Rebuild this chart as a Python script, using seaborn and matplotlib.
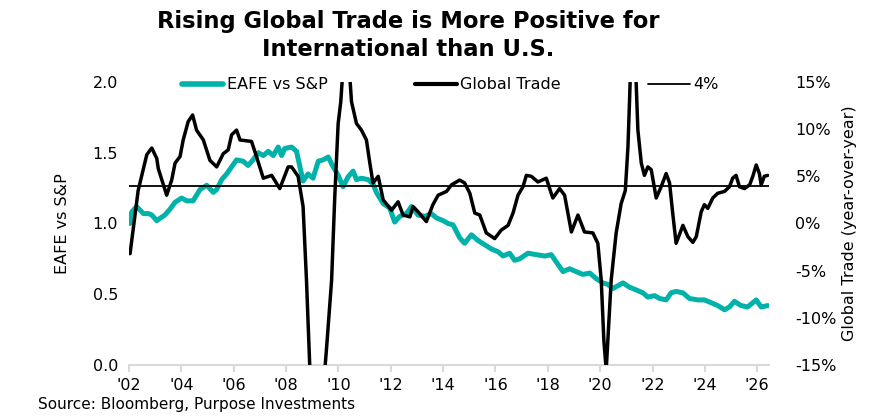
import numpy as np
import pandas as pd
import seaborn as sns
import matplotlib.pyplot as plt
from matplotlib.lines import Line2D
from matplotlib.ticker import FuncFormatter

sns.set_theme(style="white")
plt.rcParams['font.family'] = ['DejaVu Sans']
plt.rcParams['text.color'] = 'black'
plt.rcParams['axes.labelcolor'] = 'black'

# EAFE vs S&P relative ratio (left axis), decimal years
eafe_dates = [2002.04, 2002.10, 2002.29, 2002.55, 2002.74, 2002.87, 2003.06, 2003.37, 2003.56, 2003.76,
              2004.01, 2004.20, 2004.45, 2004.71, 2004.97, 2005.22, 2005.35, 2005.54, 2005.73, 2005.92,
              2006.11, 2006.36, 2006.55, 2006.74, 2006.94, 2007.13, 2007.32, 2007.51, 2007.70, 2007.83,
              2007.95, 2008.21, 2008.40, 2008.53, 2008.65, 2008.84, 2009.03, 2009.23, 2009.42, 2009.61,
              2009.80, 2009.99, 2010.18, 2010.37, 2010.56, 2010.69, 2010.88, 2011.13, 2011.32, 2011.45,
              2011.71, 2011.96, 2012.15, 2012.34, 2012.60, 2012.79, 2013.04, 2013.30, 2013.55, 2013.74,
              2014.00, 2014.19, 2014.38, 2014.63, 2014.82, 2015.08, 2015.33, 2015.59, 2015.84, 2016.10,
              2016.29, 2016.54, 2016.73, 2016.92, 2017.24, 2017.56, 2017.88, 2018.13, 2018.39, 2018.58,
              2018.83, 2019.08, 2019.34, 2019.60, 2019.85, 2020.10, 2020.29, 2020.48, 2020.87, 2021.12,
              2021.38, 2021.63, 2021.82, 2022.08, 2022.27, 2022.52, 2022.71, 2022.90, 2023.16, 2023.41,
              2023.73, 2023.98, 2024.24, 2024.49, 2024.75, 2024.94, 2025.13, 2025.38, 2025.63, 2025.83,
              2025.96, 2026.15, 2026.40]
eafe_vals = [1.00, 1.08, 1.12, 1.07, 1.07, 1.06, 1.02, 1.06, 1.10, 1.15,
             1.18, 1.16, 1.16, 1.24, 1.27, 1.22, 1.24, 1.31, 1.35, 1.40,
             1.45, 1.44, 1.41, 1.45, 1.50, 1.48, 1.51, 1.48, 1.54, 1.48,
             1.53, 1.54, 1.51, 1.40, 1.30, 1.35, 1.32, 1.44, 1.45, 1.47,
             1.40, 1.34, 1.26, 1.33, 1.37, 1.31, 1.32, 1.31, 1.28, 1.22,
             1.14, 1.11, 1.01, 1.05, 1.07, 1.12, 1.06, 1.05, 1.07, 1.04,
             1.02, 1.00, 0.99, 0.90, 0.86, 0.92, 0.88, 0.85, 0.82, 0.80,
             0.77, 0.79, 0.74, 0.75, 0.79, 0.78, 0.77, 0.78, 0.71, 0.66,
             0.68, 0.66, 0.64, 0.65, 0.61, 0.58, 0.57, 0.54, 0.58, 0.55,
             0.53, 0.51, 0.48, 0.49, 0.47, 0.46, 0.51, 0.52, 0.51, 0.47,
             0.46, 0.46, 0.44, 0.42, 0.39, 0.41, 0.45, 0.42, 0.41, 0.44,
             0.46, 0.41, 0.42]

# Global trade, % year-over-year (right axis)
trade_dates = [2002.04, 2002.35, 2002.68, 2002.87, 2003.06, 2003.12, 2003.44, 2003.63, 2003.76, 2003.95,
               2004.07, 2004.26, 2004.43, 2004.58, 2004.84, 2005.09, 2005.35, 2005.60, 2005.79, 2005.92,
               2006.11, 2006.24, 2006.68, 2006.87, 2007.13, 2007.45, 2007.76, 2008.08, 2008.21, 2008.46,
               2008.65, 2008.78, 2008.91, 2009.05, 2009.20, 2009.38, 2009.55, 2009.74, 2009.86, 2009.99,
               2010.09, 2010.20, 2010.30, 2010.40, 2010.50, 2010.69, 2010.88, 2011.07, 2011.20, 2011.32,
               2011.52, 2011.71, 2012.03, 2012.28, 2012.47, 2012.73, 2012.85, 2013.04, 2013.36, 2013.61,
               2013.81, 2014.13, 2014.32, 2014.63, 2014.82, 2015.02, 2015.21, 2015.40, 2015.65, 2015.97,
               2016.22, 2016.48, 2016.67, 2016.86, 2017.05, 2017.18, 2017.37, 2017.62, 2017.94, 2018.19,
               2018.45, 2018.64, 2018.90, 2019.15, 2019.40, 2019.72, 2019.91, 2020.04, 2020.14, 2020.23,
               2020.42, 2020.61, 2020.80, 2020.96, 2021.06, 2021.12, 2021.20, 2021.26, 2021.32, 2021.44,
               2021.57, 2021.69, 2021.82, 2021.95, 2022.14, 2022.33, 2022.52, 2022.65, 2022.77, 2022.90,
               2023.16, 2023.35, 2023.54, 2023.67, 2023.86, 2023.98, 2024.11, 2024.30, 2024.49, 2024.75,
               2024.94, 2025.06, 2025.19, 2025.32, 2025.51, 2025.71, 2025.83, 2025.96, 2026.08, 2026.15,
               2026.27, 2026.40]
trade_vals = [-3.2, 3.5, 7.3, 8.0, 6.9, 5.8, 3.0, 4.6, 6.4, 7.1,
              8.85, 10.8, 11.5, 9.9, 8.85, 6.7, 6.0, 7.4, 7.8, 9.4,
              9.9, 8.85, 8.7, 7.1, 4.8, 5.1, 3.7, 6.0, 6.0, 5.0,
              1.8, -6.0, -15.5, -20.0, -21.5, -19.0, -13.1, -6.0, 2.8, 10.6,
              12.9, 17.5, 19.0, 17.0, 12.9, 10.6, 9.9, 8.85, 6.4, 4.3,
              5.0, 2.5, 1.4, 2.3, 0.9, 0.7, 1.8, 1.25, 0.2, 2.0,
              3.0, 3.4, 4.1, 4.6, 4.3, 3.2, 1.1, 0.9, -1.0, -1.6,
              -0.7, -0.2, 1.1, 3.0, 3.9, 5.1, 5.0, 4.4, 4.8, 2.7,
              3.7, 3.0, -0.9, 0.9, -0.9, -1.0, -2.1, -6.0, -12.4, -15.5,
              -6.0, -1.0, 2.1, 3.5, 8.1, 12.9, 20.0, 22.0, 19.0, 9.9,
              6.4, 5.1, 6.0, 5.7, 2.7, 3.9, 5.3, 4.3, 1.1, -2.1,
              -0.2, -1.4, -2.0, -1.4, 1.25, 2.0, 1.6, 2.7, 3.2, 3.4,
              3.9, 4.8, 5.1, 3.9, 3.7, 4.1, 5.0, 6.2, 5.3, 4.1,
              5.0, 5.1]

threshold = 4
year_ticks = list(range(2002, 2027, 2))
teal = "#00B2A9"

eafe = pd.DataFrame({"date": eafe_dates, "value": eafe_vals})
trade = pd.DataFrame({"date": trade_dates, "value": trade_vals})

fig = plt.figure(figsize=(8.74, 4.17), dpi=100)
ax = fig.add_axes([0.1476, 0.1247, 0.7323, 0.6787])
ax2 = ax.twinx()

sns.lineplot(data=eafe, x="date", y="value", ax=ax, color=teal, linewidth=3.6)
sns.lineplot(data=trade, x="date", y="value", ax=ax2, color="black", linewidth=2.5)
ax2.axhline(threshold, color="black", linewidth=1.3)

ax.set_xlim(2002, 2026.45)
ax.set_ylim(0, 2.0)
ax.set_yticks([0, 0.5, 1.0, 1.5, 2.0])
ax.yaxis.set_major_formatter(FuncFormatter(lambda v, p: f"{v:.1f}"))
ax2.set_ylim(-15, 15)
ax2.set_yticks(range(-15, 16, 5))
ax2.yaxis.set_major_formatter(FuncFormatter(lambda v, p: f"{v:.0f}%"))

ax.set_xticks(year_ticks)
ax.set_xticklabels(["'" + str(y)[2:] for y in year_ticks])

for a in (ax, ax2):
    for s in ("top", "left", "right"):
        a.spines[s].set_visible(False)
    a.spines["bottom"].set_color("#d9d9d9")
    a.spines["bottom"].set_linewidth(1.5)
ax2.spines["bottom"].set_visible(False)

ax.tick_params(axis="x", length=5, width=1.5, color="#d9d9d9", labelcolor="black",
               labelsize=11.5, pad=4, bottom=True)
ax.tick_params(axis="y", length=0, labelsize=11.5, pad=8, labelcolor="black")
ax2.tick_params(axis="y", length=0, labelsize=11.5, pad=19, labelcolor="black")

ax.set_xlabel("")
ax.set_ylabel("EAFE vs S&P", fontsize=11.5, labelpad=16)
ax2.set_ylabel("Global Trade (year-over-year)", fontsize=11.5, labelpad=4)

fig.suptitle("Rising Global Trade is More Positive for\nInternational than U.S.",
             x=0.467, y=0.975, fontsize=16.3, fontweight="bold", linespacing=1.25)

handles = [Line2D([0], [0], color=teal, linewidth=4),
           Line2D([0], [0], color="black", linewidth=3),
           Line2D([0], [0], color="black", linewidth=1.3)]
fig.legend(handles, ["EAFE vs S&P", "Global Trade", "4%"], loc="center", ncol=3,
           bbox_to_anchor=(0.515, 0.797), frameon=False, fontsize=11.5,
           handlelength=2.6, handletextpad=0.2, columnspacing=5.5)

fig.text(0.043, 0.02, "Source: Bloomberg, Purpose Investments", fontsize=11)

plt.savefig("out.png", dpi=100)
